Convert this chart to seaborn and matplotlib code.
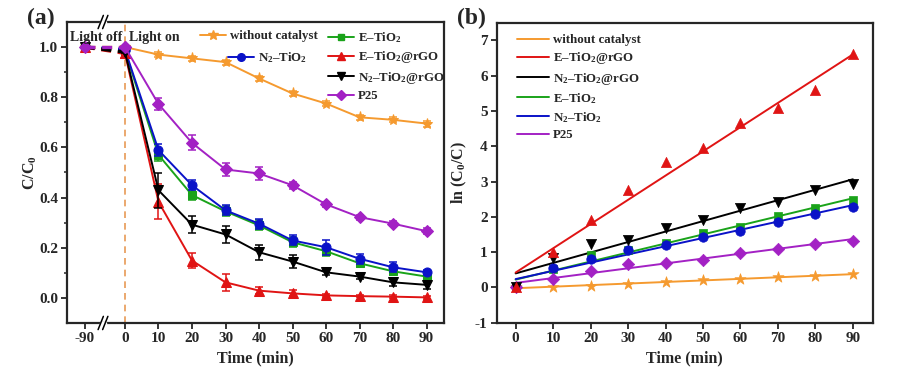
import matplotlib
matplotlib.use("Agg")
import matplotlib.pyplot as plt
import numpy as np
import pandas as pd
import seaborn as sns

# ---- data, panel (a): C/C0 vs time ----
t_dark = [-90, 0]
t_light = [0, 10, 20, 30, 40, 50, 60, 70, 80, 90]

names_a = ["without catalyst", "E–TiO$_2$", "N$_2$–TiO$_2$", "E–TiO$_2$@rGO",
           "N$_2$–TiO$_2$@rGO", "P25"]
no_cat = [1.0, 0.97, 0.955, 0.94, 0.875, 0.815, 0.775, 0.72, 0.71, 0.695]
e_tio2 = [0.985, 0.57, 0.41, 0.345, 0.289, 0.222, 0.186, 0.138, 0.106, 0.085]
n2_tio2 = [0.99, 0.589, 0.449, 0.349, 0.296, 0.229, 0.202, 0.156, 0.122, 0.102]
e_rgo = [0.975, 0.383, 0.149, 0.062, 0.029, 0.018, 0.01, 0.007, 0.005, 0.002]
n2_rgo = [0.98, 0.429, 0.292, 0.253, 0.182, 0.145, 0.102, 0.085, 0.062, 0.052]
p25 = [1.0, 0.773, 0.618, 0.512, 0.496, 0.449, 0.373, 0.322, 0.296, 0.266]

err_no_cat = [0.005, 0.01, 0.01, 0.01, 0.01, 0.01, 0.01, 0.01, 0.01, 0.012]
err_e_tio2 = [0.005, 0.025, 0.02, 0.02, 0.02, 0.02, 0.02, 0.015, 0.015, 0.015]
err_n2_tio2 = [0.005, 0.025, 0.02, 0.02, 0.02, 0.02, 0.03, 0.02, 0.02, 0.01]
err_e_rgo = [0.005, 0.07, 0.03, 0.035, 0.015, 0.012, 0.005, 0.005, 0.005, 0.005]
err_n2_rgo = [0.005, 0.07, 0.035, 0.035, 0.03, 0.025, 0.01, 0.01, 0.015, 0.015]
err_p25 = [0.005, 0.025, 0.03, 0.025, 0.025, 0.015, 0.01, 0.01, 0.01, 0.012]

# ---- data, panel (b): ln(C0/C) vs time ----
ln_no_cat = [0.0, 0.02, 0.05, 0.085, 0.14, 0.21, 0.25, 0.30, 0.33, 0.37]
ln_e_rgo = [0.0, 1.0, 1.92, 2.77, 3.55, 3.95, 4.67, 5.07, 5.58, 6.6]
ln_n2_rgo = [0.0, 0.82, 1.22, 1.34, 1.67, 1.90, 2.24, 2.42, 2.75, 2.94]
ln_e_tio2 = [0.0, 0.52, 0.91, 1.05, 1.25, 1.53, 1.72, 2.02, 2.26, 2.47]
ln_n2_tio2 = [0.0, 0.54, 0.80, 1.06, 1.20, 1.42, 1.60, 1.84, 2.09, 2.28]
ln_p25 = [0.0, 0.25, 0.47, 0.66, 0.70, 0.79, 0.98, 1.10, 1.22, 1.31]

colors = {
    "without catalyst": "#F59A2F",
    "E–TiO$_2$": "#1AA31A",
    "N$_2$–TiO$_2$": "#0A12C8",
    "E–TiO$_2$@rGO": "#E01414",
    "N$_2$–TiO$_2$@rGO": "#000000",
    "P25": "#A321C4",
}
markers = {
    "without catalyst": "*",
    "E–TiO$_2$": "s",
    "N$_2$–TiO$_2$": "o",
    "E–TiO$_2$@rGO": "^",
    "N$_2$–TiO$_2$@rGO": "v",
    "P25": "D",
}
msize = {"without catalyst": 8, "E–TiO$_2$": 6, "N$_2$–TiO$_2$": 6.5,
         "E–TiO$_2$@rGO": 7, "N$_2$–TiO$_2$@rGO": 7, "P25": 6}

sns.set_style("ticks")
plt.rcParams["font.family"] = ["Liberation Serif", "DejaVu Serif"]
plt.rcParams["font.weight"] = "bold"
plt.rcParams["axes.labelweight"] = "bold"
plt.rcParams["mathtext.fontset"] = "custom"
plt.rcParams["mathtext.rm"] = "Liberation Serif:bold"
plt.rcParams["mathtext.it"] = "Liberation Serif:bold"
plt.rcParams["mathtext.bf"] = "Liberation Serif:bold"
plt.rcParams["mathtext.default"] = "rm"
plt.rcParams["axes.unicode_minus"] = False
plt.rcParams["axes.linewidth"] = 1.6
plt.rcParams["xtick.direction"] = "out"
plt.rcParams["ytick.direction"] = "out"

fig = plt.figure(figsize=(9.04, 3.76), dpi=100)
ax1 = fig.add_axes([0.0741, 0.141, 0.4171, 0.8005])
ax2 = fig.add_axes([0.5494, 0.1418, 0.4160, 0.7978])

# ---------------- panel (a) ----------------
k = 12 / 90.0


def fwd(x):
    x = np.asarray(x, dtype=float)
    return np.where(x < 0, x * k, x)


def inv(x):
    x = np.asarray(x, dtype=float)
    return np.where(x < 0, x / k, x)


ax1.set_xscale("function", functions=(fwd, inv))

series_a = [no_cat, e_tio2, n2_tio2, e_rgo, n2_rgo, p25]
errs_a = [err_no_cat, err_e_tio2, err_n2_tio2, err_e_rgo, err_n2_rgo, err_p25]
handles_a = {}
for name, vals, err in zip(names_a, series_a, errs_a):
    c = colors[name]
    m = markers[name]
    df = pd.DataFrame({"t": t_light, "v": vals})
    sns.lineplot(data=df, x="t", y="v", ax=ax1, color=c, marker=m,
                 markersize=msize[name], markeredgecolor=c, linewidth=1.4,
                 errorbar=None)
    ax1.errorbar(t_light, vals, yerr=err, fmt="none", ecolor=c, elinewidth=1.1,
                 capsize=3, capthick=1.1)
    dark = pd.DataFrame({"t": t_dark, "v": [1.0, vals[0]]})
    sns.lineplot(data=dark, x="t", y="v", ax=ax1, color=c, marker=m,
                 markersize=msize[name], markeredgecolor=c, linewidth=2.4,
                 linestyle=(0, (3, 2)), errorbar=None)
    handles_a[name] = plt.Line2D([], [], color=c, marker=m, markersize=msize[name] - 1,
                                 markeredgecolor=c, linewidth=1.4)

ax1.axvline(0, color="#E89A55", linestyle=(0, (4, 3)), linewidth=1.2, zorder=0)
ax1.set_xlim(-129.75, 95.2)
ax1.set_ylim(-0.1, 1.1)
ax1.set_xticks([-90, 0, 10, 20, 30, 40, 50, 60, 70, 80, 90])
ax1.set_xticklabels(["-90", "0", "10", "20", "30", "40", "50", "60", "70", "80", "90"])
ax1.set_yticks([0.0, 0.2, 0.4, 0.6, 0.8, 1.0])
ax1.set_yticklabels(["0.0", "0.2", "0.4", "0.6", "0.8", "1.0"])
ax1.set_yticks([0.1, 0.3, 0.5, 0.7, 0.9], minor=True)
ax1.tick_params(axis="both", which="major", labelsize=11, length=4, width=1.3, pad=2.5)
ax1.tick_params(axis="y", which="minor", length=2.5, width=1.1)
ax1.set_xlabel("Time (min)", fontsize=11.5, labelpad=4)
ax1.set_ylabel("C/C$_0$", fontsize=11.5, labelpad=0)

# axis break marks
xb = 0.0955
for yb in (0.0, 1.0):
    ax1.plot([xb - 0.006, xb + 0.006], [yb, yb], transform=ax1.transAxes,
             color="white", linewidth=2.5, clip_on=False, zorder=5)
    for dx in (-0.006, 0.006):
        ax1.plot([xb + dx - 0.007, xb + dx + 0.007], [yb - 0.022, yb + 0.022],
                 transform=ax1.transAxes, color="black", linewidth=1.1,
                 clip_on=False, zorder=6)

ax1.text(0.008, 0.95, "Light off", transform=ax1.transAxes, fontsize=10,
         fontweight="bold", va="center", ha="left")
ax1.text(0.164, 0.95, "Light on", transform=ax1.transAxes, fontsize=10,
         fontweight="bold", va="center", ha="left")

leg_kw = dict(frameon=False, fontsize=9.3, loc="upper left", borderaxespad=0,
              borderpad=0, handlelength=2.0, handletextpad=0.3, labelspacing=0.33)
l1 = ax1.legend([handles_a["without catalyst"]], ["without catalyst"],
                bbox_to_anchor=(0.353, 0.972), **leg_kw)
ax1.add_artist(l1)
l2 = ax1.legend([handles_a["N$_2$–TiO$_2$"]], ["N$_2$–TiO$_2$"],
                bbox_to_anchor=(0.427, 0.905), **leg_kw)
ax1.add_artist(l2)
col2 = ["E–TiO$_2$", "E–TiO$_2$@rGO", "N$_2$–TiO$_2$@rGO", "P25"]
ax1.legend([handles_a[n] for n in col2], col2,
           bbox_to_anchor=(0.692, 0.972), **leg_kw)

# ---------------- panel (b) ----------------
names_b = ["without catalyst", "E–TiO$_2$@rGO", "N$_2$–TiO$_2$@rGO",
           "E–TiO$_2$", "N$_2$–TiO$_2$", "P25"]
series_b = [ln_no_cat, ln_e_rgo, ln_n2_rgo, ln_e_tio2, ln_n2_tio2, ln_p25]
draw_order = [0, 3, 4, 5, 2, 1]
for i in draw_order:
    name = names_b[i]
    c = colors[name]
    df = pd.DataFrame({"t": t_light, "v": series_b[i]})
    sns.regplot(data=df, x="t", y="v", ax=ax2, ci=None, scatter=False,
                color=c, line_kws={"linewidth": 1.4})
    sns.scatterplot(data=df, x="t", y="v", ax=ax2, color=c, marker=markers[name],
                    s=msize[name] ** 2 * 1.1, edgecolor=c, linewidth=0.5, zorder=3)

handles_b = [plt.Line2D([], [], color=colors[n], linewidth=1.4) for n in names_b]
ax2.legend(handles_b, names_b, frameon=False, fontsize=9.3, loc="upper left",
           bbox_to_anchor=(0.053, 0.962), borderaxespad=0, borderpad=0,
           handlelength=2.5, handletextpad=0.3, labelspacing=0.33)

ax2.set_xlim(-5.07, 95.3)
ax2.set_ylim(-1, 7.5)
ax2.set_xticks(t_light)
ax2.set_yticks(range(-1, 8))
ax2.tick_params(axis="both", which="major", labelsize=11, length=4, width=1.3, pad=2.5)
ax2.set_xlabel("Time (min)", fontsize=11.5, labelpad=4)
ax2.set_ylabel("ln (C$_0$/C)", fontsize=11.5, labelpad=4)

for ax in (ax1, ax2):
    for lab in ax.get_xticklabels() + ax.get_yticklabels():
        lab.set_fontweight("bold")

fig.text(27 / 904, 1 - 18 / 376, "(a)", fontsize=17, fontweight="bold",
         ha="left", va="center")
fig.text(457 / 904, 1 - 18 / 376, "(b)", fontsize=17, fontweight="bold",
         ha="left", va="center")

fig.savefig("out.png", dpi=100)
